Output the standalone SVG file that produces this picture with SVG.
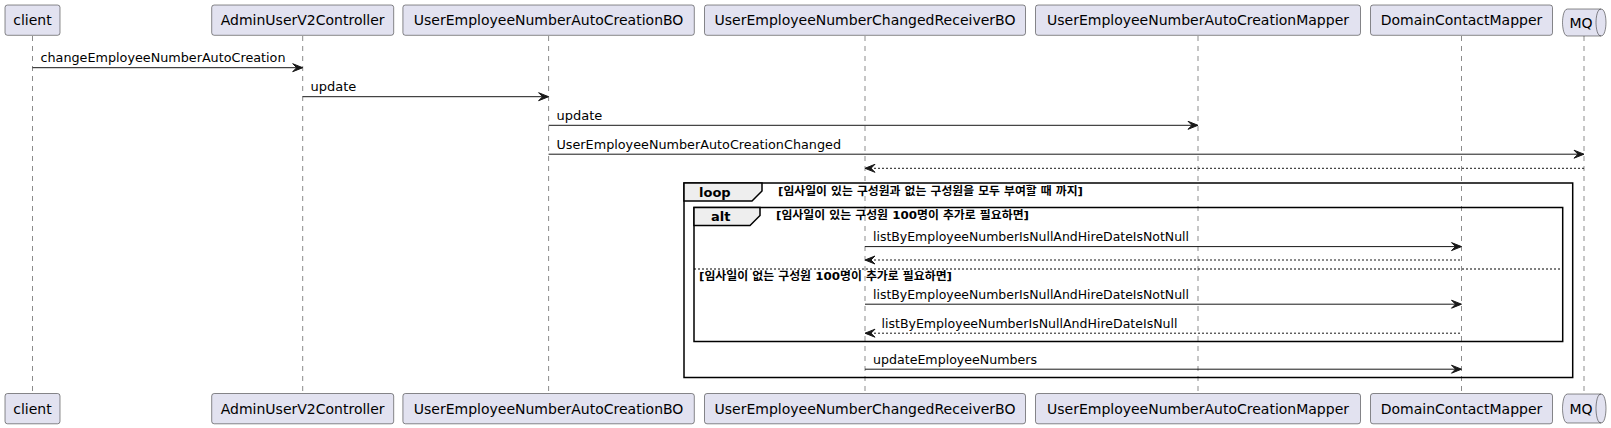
<svg xmlns="http://www.w3.org/2000/svg" width="1611" height="428" viewBox="0 0 1611 428">
<style>
  .box { fill: #E2E2F0; stroke: #181818; stroke-width: 0.5; }
  .pname { font-family: "DejaVu Sans", "Liberation Sans", sans-serif; font-size: 14px; fill: #000; text-anchor: middle; }
  .life { stroke: #181818; stroke-width: 0.5; stroke-dasharray: 5,5; fill: none; }
  .msg { stroke: #181818; stroke-width: 1; fill: none; }
  .ret { stroke: #181818; stroke-width: 1; fill: none; stroke-dasharray: 2,2; }
  .head { fill: #181818; stroke: #181818; stroke-width: 1; }
  .mtext { font-family: "DejaVu Sans", "Liberation Sans", sans-serif; font-size: 13px; fill: #000; }
  .frame { fill: none; stroke: #000; stroke-width: 1.5; }
  .tab { fill: #EEEEEE; stroke: #000; stroke-width: 1.5; }
  .tabtext { font-family: "DejaVu Sans", "Liberation Sans", sans-serif; font-size: 13px; font-weight: bold; fill: #000; }
  .cond { font-family: "DejaVu Sans", "Noto Sans CJK KR", sans-serif; font-size: 11px; font-weight: bold; fill: #000; }
  .sep { stroke: #000; stroke-width: 1; stroke-dasharray: 2,2; fill: none; }
</style>

<g id="lifelines">
  <line class="life" x1="32.5" y1="36" x2="32.5" y2="393"/>
  <line class="life" x1="302.7" y1="36" x2="302.7" y2="393"/>
  <line class="life" x1="548.6" y1="36" x2="548.6" y2="393"/>
  <line class="life" x1="865" y1="36" x2="865" y2="393"/>
  <line class="life" x1="1198" y1="36" x2="1198" y2="393"/>
  <line class="life" x1="1461.5" y1="36" x2="1461.5" y2="393"/>
  <line class="life" x1="1584" y1="36" x2="1584" y2="393"/>
</g>

<g id="frames">
  <rect class="frame" x="684" y="183" width="888.7" height="194.5"/>
  <path class="tab" d="M684,183 L762,183 L762,191 L752,201 L684,201 Z"/>
  <text class="tabtext" x="699" y="196.5">loop</text>
  <text class="cond" x="778" y="195" textLength="305" lengthAdjust="spacingAndGlyphs">[임사일이 있는 구성원과 없는 구성원을 모두 부여할 때 까지]</text>

  <rect class="frame" x="694" y="207.5" width="868.7" height="134"/>
  <path class="tab" d="M694,207.5 L760,207.5 L760,215.5 L750,225.5 L694,225.5 Z"/>
  <text class="tabtext" x="711" y="221">alt</text>
  <text class="cond" x="776" y="219" textLength="253" lengthAdjust="spacingAndGlyphs">[임사일이 있는 구성원 100명이 추가로 필요하면]</text>
  <line class="sep" x1="694" y1="269" x2="1562.7" y2="269"/>
  <text class="cond" x="699" y="279.5" textLength="253" lengthAdjust="spacingAndGlyphs">[임사일이 없는 구성원 100명이 추가로 필요하면]</text>
</g>

<g id="connectors">
  <line class="msg" x1="32.5" y1="67.7" x2="301.7" y2="67.7"/>
  <polygon class="head" points="292.7,63.7 302.7,67.7 292.7,71.7 296.7,67.7"/>
  <text class="mtext" x="40.5" y="62" textLength="245" lengthAdjust="spacingAndGlyphs">changeEmployeeNumberAutoCreation</text>

  <line class="msg" x1="302.7" y1="96.7" x2="547.6" y2="96.7"/>
  <polygon class="head" points="538.6,92.7 548.6,96.7 538.6,100.7 542.6,96.7"/>
  <text class="mtext" x="310.5" y="91">update</text>

  <line class="msg" x1="548.6" y1="125.3" x2="1197" y2="125.3"/>
  <polygon class="head" points="1188,121.3 1198,125.3 1188,129.3 1192,125.3"/>
  <text class="mtext" x="556.5" y="119.7">update</text>

  <line class="msg" x1="548.6" y1="154.2" x2="1583" y2="154.2"/>
  <polygon class="head" points="1574,150.2 1584,154.2 1574,158.2 1578,154.2"/>
  <text class="mtext" x="556.5" y="148.6" textLength="284.5" lengthAdjust="spacingAndGlyphs">UserEmployeeNumberAutoCreationChanged</text>

  <line class="ret" x1="866" y1="168.3" x2="1584" y2="168.3"/>
  <polygon class="head" points="875,164.3 865,168.3 875,172.3 871,168.3"/>

  <line class="msg" x1="865" y1="246.6" x2="1460.5" y2="246.6"/>
  <polygon class="head" points="1451.5,242.6 1461.5,246.6 1451.5,250.6 1455.5,246.6"/>
  <text class="mtext" x="873" y="241" textLength="316" lengthAdjust="spacingAndGlyphs">listByEmployeeNumberIsNullAndHireDateIsNotNull</text>

  <line class="ret" x1="866" y1="260" x2="1461.5" y2="260"/>
  <polygon class="head" points="875,256 865,260 875,264 871,260"/>

  <line class="msg" x1="865" y1="304.2" x2="1460.5" y2="304.2"/>
  <polygon class="head" points="1451.5,300.2 1461.5,304.2 1451.5,308.2 1455.5,304.2"/>
  <text class="mtext" x="873" y="298.6" textLength="316" lengthAdjust="spacingAndGlyphs">listByEmployeeNumberIsNullAndHireDateIsNotNull</text>

  <line class="ret" x1="866" y1="333.2" x2="1461.5" y2="333.2"/>
  <polygon class="head" points="875,329.2 865,333.2 875,337.2 871,333.2"/>
  <text class="mtext" x="881.5" y="327.6" textLength="296" lengthAdjust="spacingAndGlyphs">listByEmployeeNumberIsNullAndHireDateIsNull</text>

  <line class="msg" x1="865" y1="369.2" x2="1460.5" y2="369.2"/>
  <polygon class="head" points="1451.5,365.2 1461.5,369.2 1451.5,373.2 1455.5,369.2"/>
  <text class="mtext" x="873" y="363.6" textLength="164" lengthAdjust="spacingAndGlyphs">updateEmployeeNumbers</text>
</g>

<g id="client">
  <rect class="box" x="5" y="5" width="55" height="30.3" rx="2.5"/>
  <text class="pname" x="32.5" y="25">client</text>
  <rect class="box" x="5" y="393.5" width="55" height="30.3" rx="2.5"/>
  <text class="pname" x="32.5" y="413.5">client</text>
</g>
<g id="AdminUserV2Controller">
  <rect class="box" x="211.7" y="5" width="182" height="30.3" rx="2.5"/>
  <text class="pname" x="302.7" y="25">AdminUserV2Controller</text>
  <rect class="box" x="211.7" y="393.5" width="182" height="30.3" rx="2.5"/>
  <text class="pname" x="302.7" y="413.5">AdminUserV2Controller</text>
</g>
<g id="UserEmployeeNumberAutoCreationBO">
  <rect class="box" x="402.9" y="5" width="291.4" height="30.3" rx="2.5"/>
  <text class="pname" x="548.6" y="25">UserEmployeeNumberAutoCreationBO</text>
  <rect class="box" x="402.9" y="393.5" width="291.4" height="30.3" rx="2.5"/>
  <text class="pname" x="548.6" y="413.5">UserEmployeeNumberAutoCreationBO</text>
</g>
<g id="UserEmployeeNumberChangedReceiverBO">
  <rect class="box" x="704.5" y="5" width="321" height="30.3" rx="2.5"/>
  <text class="pname" x="865" y="25">UserEmployeeNumberChangedReceiverBO</text>
  <rect class="box" x="704.5" y="393.5" width="321" height="30.3" rx="2.5"/>
  <text class="pname" x="865" y="413.5">UserEmployeeNumberChangedReceiverBO</text>
</g>
<g id="UserEmployeeNumberAutoCreationMapper">
  <rect class="box" x="1035.5" y="5" width="325" height="30.3" rx="2.5"/>
  <text class="pname" x="1198" y="25">UserEmployeeNumberAutoCreationMapper</text>
  <rect class="box" x="1035.5" y="393.5" width="325" height="30.3" rx="2.5"/>
  <text class="pname" x="1198" y="413.5">UserEmployeeNumberAutoCreationMapper</text>
</g>
<g id="DomainContactMapper">
  <rect class="box" x="1370.5" y="5" width="182" height="30.3" rx="2.5"/>
  <text class="pname" x="1461.5" y="25">DomainContactMapper</text>
  <rect class="box" x="1370.5" y="393.5" width="182" height="30.3" rx="2.5"/>
  <text class="pname" x="1461.5" y="413.5">DomainContactMapper</text>
</g>
<g id="MQ">
  <path class="box" d="M1567.5,9 L1601,9 C1606,9 1606,22.5 1606,22.5 C1606,22.5 1606,36 1601,36 L1567.5,36 C1562.5,36 1562.5,22.5 1562.5,22.5 C1562.5,22.5 1562.5,9 1567.5,9 Z"/>
  <path class="box" style="fill:none" d="M1601,9 C1596,9 1596,22.5 1596,22.5 C1596,22.5 1596,36 1601,36"/>
  <text class="mtext" style="font-size:14px" x="1569.5" y="28">MQ</text>
  <path class="box" d="M1567.5,394 L1601,394 C1606,394 1606,408.5 1606,408.5 C1606,408.5 1606,423 1601,423 L1567.5,423 C1562.5,423 1562.5,408.5 1562.5,408.5 C1562.5,408.5 1562.5,394 1567.5,394 Z"/>
  <path class="box" style="fill:none" d="M1601,394 C1596,394 1596,408.5 1596,408.5 C1596,408.5 1596,423 1601,423"/>
  <text class="mtext" style="font-size:14px" x="1569.5" y="413.5">MQ</text>
</g>
</svg>
